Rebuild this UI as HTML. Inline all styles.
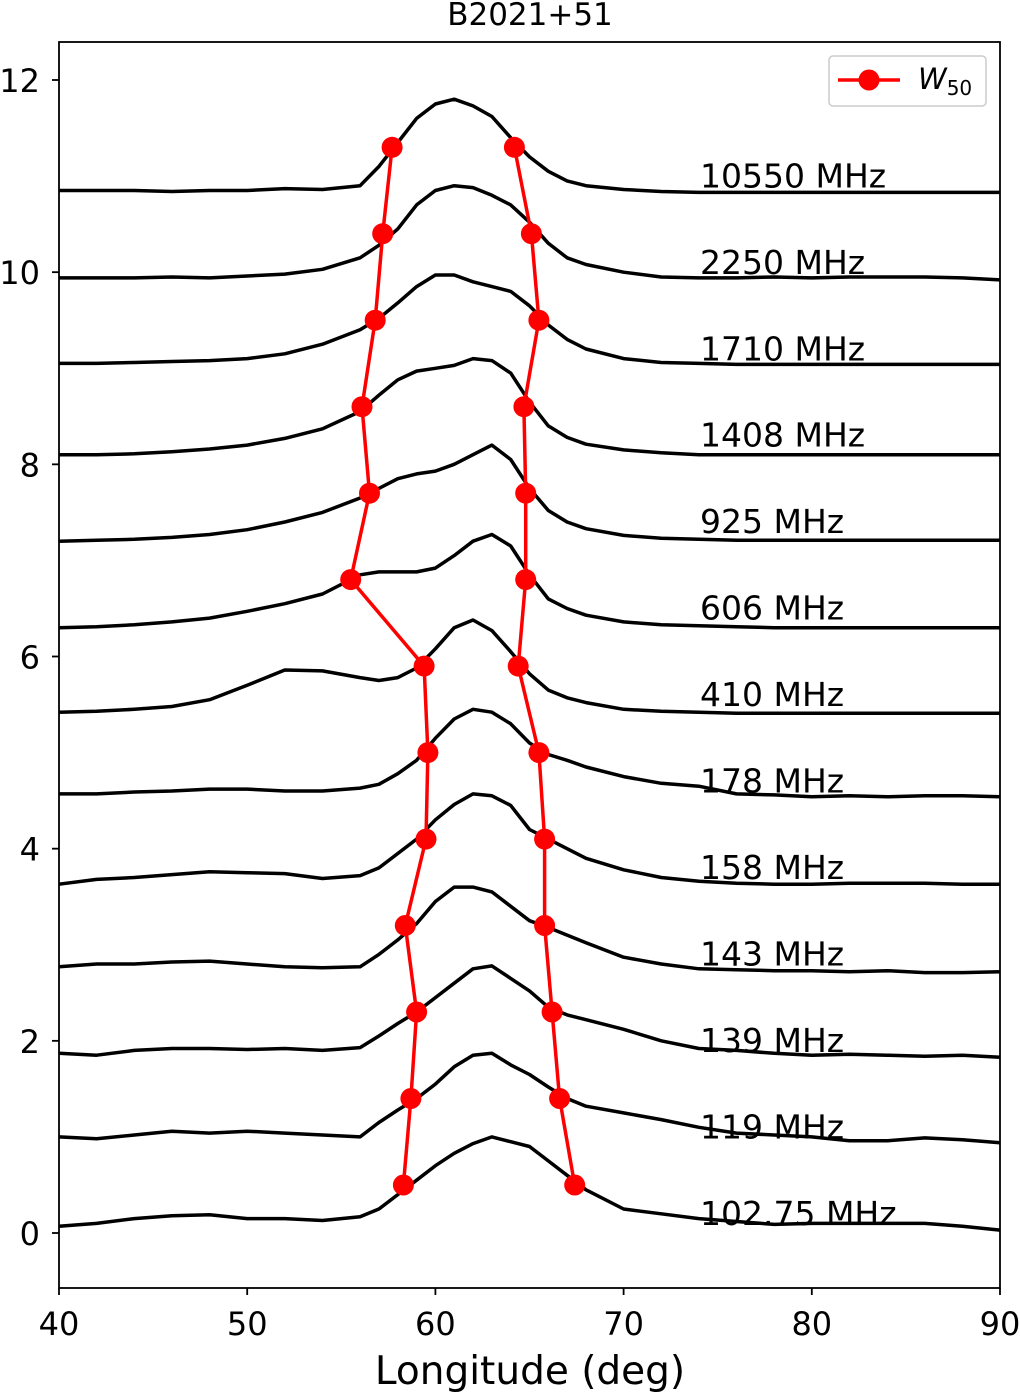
<!DOCTYPE html>
<html><head><meta charset="utf-8"><style>
body{margin:0;background:#fff}
svg text{font-family:"DejaVu Sans","Liberation Sans",sans-serif}
</style></head><body>
<svg id="chart" width="1020" height="1394" viewBox="0 0 1020 1394" xmlns="http://www.w3.org/2000/svg">
<text x="530" y="25" font-size="31" text-anchor="middle">B2021+51</text>
<g id="plot"></g>
<rect x="59" y="42" width="941" height="1246" fill="none" stroke="#000" stroke-width="1.8"/>
<g id="axes"></g>
<text x="530" y="1384" font-size="39" text-anchor="middle">Longitude (deg)</text>
<g>
<rect x="829" y="56" width="157" height="50" rx="4" fill="#fff" stroke="#ccc" stroke-width="1.5"/>
<line x1="838" y1="80" x2="900" y2="80" stroke="#f00" stroke-width="3.5"/>
<circle cx="869" cy="80" r="10.5" fill="#f00"/>
<text x="918" y="89" font-size="29" font-style="italic">W<tspan font-size="20" font-style="normal" dy="6">50</tspan></text>
</g>
</svg>
<script>
const longitudes=[40,42,44,46,48,50,52,54,56,57,58,59,60,61,62,63,64,65,66,67,68,70,72,74,76,78,80,82,84,86,88,90];
const freqLabels=["102.75 MHz","119 MHz","139 MHz","143 MHz","158 MHz","178 MHz","410 MHz","606 MHz","925 MHz","1408 MHz","1710 MHz","2250 MHz","10550 MHz"];
const offsets=[0,0.9,1.8,2.7,3.6,4.5,5.4,6.3,7.2,8.1,9.0,9.9,10.8];
const p102=[.07,.1,.15,.18,.19,.15,.15,.13,.17,.25,.4,.55,.7,.83,.93,1.0,.95,.9,.75,.6,.45,.25,.2,.15,.12,.09,.1,.1,.1,.1,.07,.03];
const p119=[.1,.08,.12,.16,.14,.16,.14,.12,.1,.25,.38,.5,.65,.83,.95,.97,.85,.75,.62,.5,.42,.35,.28,.2,.14,.12,.1,.06,.06,.09,.07,.04];
const p139=[.07,.05,.1,.12,.12,.11,.12,.1,.13,.25,.38,.5,.65,.8,.95,.98,.85,.72,.55,.47,.42,.32,.2,.12,.1,.07,.05,.06,.05,.04,.05,.03];
const p143=[.07,.1,.1,.12,.13,.1,.07,.06,.07,.2,.35,.52,.75,.9,.9,.85,.7,.55,.48,.4,.32,.17,.1,.05,.04,.03,.03,.02,.03,.01,.01,.02];
const p158=[.03,.08,.1,.13,.16,.15,.14,.09,.12,.2,.35,.5,.7,.86,.97,.95,.85,.6,.5,.4,.3,.18,.1,.06,.04,.03,.03,.04,.04,.04,.03,.03];
const p178=[.07,.07,.09,.1,.12,.12,.1,.1,.13,.17,.28,.42,.65,.85,.95,.92,.8,.6,.48,.42,.35,.25,.18,.15,.07,.06,.04,.05,.04,.05,.05,.04];
const p410=[.02,.03,.05,.08,.15,.3,.46,.45,.38,.35,.38,.48,.68,.9,.98,.87,.65,.42,.25,.17,.12,.05,.03,.02,.01,.01,.01,.01,.01,.01,.01,.01];
const p606=[0,.01,.03,.06,.1,.17,.25,.35,.55,.58,.58,.58,.62,.75,.9,.97,.85,.55,.3,.2,.13,.06,.03,.02,.01,0,0,0,0,0,0,0];
const p925=[0,.01,.02,.04,.07,.12,.2,.3,.45,.55,.65,.7,.73,.8,.9,1.0,.85,.55,.32,.2,.13,.06,.03,.02,.01,.01,.01,.01,.01,.01,.01,.01];
const p1408=[0,0,.01,.03,.06,.1,.17,.27,.45,.62,.78,.87,.9,.93,1.0,.98,.85,.55,.3,.18,.11,.05,.02,0,0,0,0,0,0,0,0,0];
const p1710=[.05,.05,.06,.07,.08,.1,.15,.25,.4,.52,.68,.85,.97,.97,.9,.85,.8,.65,.45,.3,.2,.1,.06,.05,.04,.04,.04,.04,.04,.04,.04,.04];
const p2250=[.04,.04,.04,.05,.04,.06,.08,.13,.25,.38,.55,.8,.95,1.0,.98,.9,.8,.62,.4,.25,.18,.1,.05,.04,.04,.05,.04,.05,.05,.05,.04,.02];
const p10550=[.05,.05,.05,.04,.05,.05,.07,.06,.1,.3,.55,.8,.95,1.0,.93,.82,.6,.4,.25,.15,.1,.06,.04,.03,.03,.03,.03,.03,.03,.03,.03,.03];
const profiles=[p102,p119,p139,p143,p158,p178,p410,p606,p925,p1408,p1710,p2250,p10550];
const w50Left=[58.3,58.7,59.0,58.4,59.5,59.6,59.4,55.5,56.5,56.1,56.8,57.2,57.7];
const w50Right=[67.4,66.6,66.2,65.8,65.8,65.5,64.4,64.8,64.8,64.7,65.5,65.1,64.2];
const yTicks=[0,2,4,6,8,10,12];
const xTicks=[40,50,60,70,80,90];

const NS="http://www.w3.org/2000/svg";
const X=v=>59+(v-40)*(941/50);
const Y=v=>1233-v*(1153/12);
const plot=document.getElementById('plot'), axes=document.getElementById('axes');
function mk(tag,attrs,parent){const e=document.createElementNS(NS,tag);for(const k in attrs)e.setAttribute(k,attrs[k]);parent.appendChild(e);return e;}

profiles.forEach((p,i)=>{
  const d=p.map((v,j)=>(j?'L':'M')+X(longitudes[j]).toFixed(1)+' '+Y(offsets[i]+v).toFixed(1)).join(' ');
  const path=mk('path',{d:d,fill:'none',stroke:'#000','stroke-width':3.5,'stroke-linejoin':'round'},plot);
  
  
  const t=mk('text',{x:700,y:(Y(offsets[i])-8).toFixed(1),'font-size':33},plot);
  t.textContent=freqLabels[i];
  
  
});
[w50Left,w50Right].forEach((arr,k)=>{
  const d=arr.map((v,i)=>(i?'L':'M')+X(v).toFixed(1)+' '+Y(offsets[i]+0.5).toFixed(1)).join(' ');
  const l=mk('path',{d:d,fill:'none',stroke:'#f00','stroke-width':3.5},plot);
  
  
  arr.forEach((v,i)=>{
    const c=mk('circle',{cx:X(v).toFixed(1),cy:Y(offsets[i]+0.5).toFixed(1),r:10.5,fill:'#f00'},plot);
    
    
  });
});
yTicks.forEach(v=>{
  const tk=mk('line',{x1:52,x2:59,y1:Y(v),y2:Y(v),stroke:'#000','stroke-width':1.8},axes);
  
  
  const t=mk('text',{x:40,y:Y(v)+12,'font-size':32,'text-anchor':'end'},axes);
  t.textContent=v;
  
  
});
xTicks.forEach(v=>{
  const tk=mk('line',{x1:X(v),x2:X(v),y1:1288,y2:1295,stroke:'#000','stroke-width':1.8},axes);
  
  
  const t=mk('text',{x:X(v),y:1335,'font-size':32,'text-anchor':'middle'},axes);
  t.textContent=v;
  
  
});
</script>
</body></html>
